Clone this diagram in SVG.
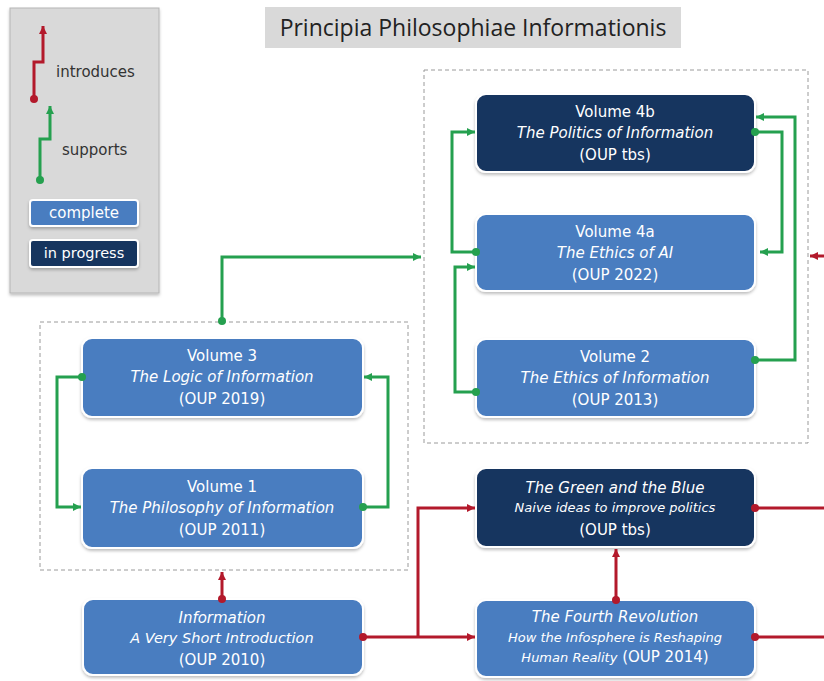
<svg xmlns="http://www.w3.org/2000/svg" width="824" height="681" viewBox="0 0 824 681">
<defs>
<style>
.lt{fill:#4a7dc0;stroke:#fff;stroke-width:2}
.dk{fill:#19345e;stroke:#fff;stroke-width:2}
.t{font-family:"DejaVu Sans","Liberation Sans",sans-serif;fill:#fff;text-anchor:middle}
.h{font-size:15px}
.i{font-size:15px;font-style:italic}
.s{font-size:13px;font-style:italic}
.grp{fill:none;stroke:#9a9a9a;stroke-width:1;stroke-dasharray:4 3}
.g{fill:none;stroke:#25a04f;stroke-width:3;marker-start:url(#gd);marker-end:url(#ga)}
.r{fill:none;stroke:#b3192b;stroke-width:3;marker-start:url(#rd);marker-end:url(#ra)}
.rs{fill:none;stroke:#b3192b;stroke-width:3;marker-start:url(#rd)}
.re{fill:none;stroke:#b3192b;stroke-width:3;marker-end:url(#ra)}
.lg{font-family:"DejaVu Sans","Liberation Sans",sans-serif;font-size:15px;fill:#333}
</style>
<filter id="sh" x="-10%" y="-10%" width="120%" height="130%">
<feDropShadow dx="0" dy="2" stdDeviation="1.5" flood-color="#000" flood-opacity="0.25"/>
</filter>
<marker id="ga" markerUnits="userSpaceOnUse" viewBox="0 0 10 10" refX="10" refY="5" markerWidth="9" markerHeight="8" orient="auto"><path d="M0,0 L10,5 L0,10 z" fill="#25a04f"/></marker>
<marker id="gd" markerUnits="userSpaceOnUse" viewBox="0 0 10 10" refX="5" refY="5" markerWidth="8" markerHeight="8" orient="auto"><circle cx="5" cy="5" r="5" fill="#25a04f"/></marker>
<marker id="ra" markerUnits="userSpaceOnUse" viewBox="0 0 10 10" refX="10" refY="5" markerWidth="9" markerHeight="8" orient="auto"><path d="M0,0 L10,5 L0,10 z" fill="#b3192b"/></marker>
<marker id="rd" markerUnits="userSpaceOnUse" viewBox="0 0 10 10" refX="5" refY="5" markerWidth="8" markerHeight="8" orient="auto"><circle cx="5" cy="5" r="5" fill="#b3192b"/></marker>
</defs>
<rect width="824" height="681" fill="#fff"/>

<g id="legend">
<rect x="10" y="8" width="149" height="285" fill="#d9d9d9" stroke="#b5b5b5" stroke-width="1" filter="url(#sh)"/>
<path d="M34,99 V62 H43 V26" class="r"/>
<text x="56" y="77" class="lg">introduces</text>
<path d="M40,180 V139 H50 V106" class="g"/>
<text x="62" y="155" class="lg">supports</text>
<rect x="30" y="200" width="108" height="26" rx="3" class="lt" filter="url(#sh)"/>
<text x="84" y="218" class="t" style="font-size:15px">complete</text>
<rect x="30" y="240" width="108" height="27" rx="3" class="dk" filter="url(#sh)"/>
<text x="84" y="258" class="t" style="font-size:14.5px">in progress</text>
</g>

<g id="title">
<rect x="265" y="7" width="416" height="41" fill="#d9d9d9"/>
<text x="473" y="36" font-family="'Open Sans','Liberation Sans',sans-serif" font-size="23" fill="#222" text-anchor="middle">Principia Philosophiae Informationis</text>
</g>

<g id="groups">
<rect x="424" y="70" width="384" height="373" class="grp"/>
<rect x="40" y="322" width="368" height="248" class="grp"/>
</g>

<g id="vol4b">
<rect x="476" y="94" width="279" height="78" rx="10" class="dk" filter="url(#sh)"/>
<text x="615" y="117" class="t h">Volume 4b</text>
<text x="615" y="138" class="t i">The Politics of Information</text>
<text x="615" y="160" class="t h">(OUP tbs)</text>
</g>
<g id="vol4a">
<rect x="476" y="214" width="279" height="77" rx="10" class="lt" filter="url(#sh)"/>
<text x="615" y="237" class="t h">Volume 4a</text>
<text x="615" y="258" class="t i">The Ethics of AI</text>
<text x="615" y="280" class="t h">(OUP 2022)</text>
</g>
<g id="vol2">
<rect x="476" y="339" width="279" height="78" rx="10" class="lt" filter="url(#sh)"/>
<text x="615" y="362" class="t h">Volume 2</text>
<text x="615" y="383" class="t i">The Ethics of Information</text>
<text x="615" y="405" class="t h">(OUP 2013)</text>
</g>
<g id="vol3">
<rect x="82" y="338" width="281" height="79" rx="10" class="lt" filter="url(#sh)"/>
<text x="222" y="361" class="t h">Volume 3</text>
<text x="222" y="382" class="t i">The Logic of Information</text>
<text x="222" y="404" class="t h">(OUP 2019)</text>
</g>
<g id="vol1">
<rect x="82" y="468" width="281" height="80" rx="10" class="lt" filter="url(#sh)"/>
<text x="222" y="492" class="t h">Volume 1</text>
<text x="222" y="513" class="t i">The Philosophy of Information</text>
<text x="222" y="535" class="t h">(OUP 2011)</text>
</g>
<g id="info">
<rect x="83" y="599" width="280" height="76" rx="10" class="lt" filter="url(#sh)"/>
<text x="222" y="623" class="t i">Information</text>
<text x="222" y="643" class="t s" style="font-size:14.5px">A Very Short Introduction</text>
<text x="222" y="665" class="t h">(OUP 2010)</text>
</g>
<g id="greenblue">
<rect x="476" y="468" width="279" height="79" rx="10" class="dk" filter="url(#sh)"/>
<text x="615" y="493" class="t i">The Green and the Blue</text>
<text x="615" y="512" class="t s">Naive ideas to improve politics</text>
<text x="615" y="535" class="t h">(OUP tbs)</text>
</g>
<g id="fourth">
<rect x="476" y="600" width="279" height="77" rx="10" class="lt" filter="url(#sh)"/>
<text x="615" y="622" class="t i">The Fourth Revolution</text>
<text x="615" y="642" class="t s">How the Infosphere is Reshaping</text>
<text x="615" y="662" class="t"><tspan class="s">Human Reality</tspan><tspan class="h"> (OUP 2014)</tspan></text>
</g>

<g id="connectors">
<path d="M222,321 V257 H421" class="g"/>
<path d="M82,377 H57 V507 H81" class="g"/>
<path d="M363,507 H388 V377 H364" class="g"/>
<path d="M476,252 H452 V132 H475" class="g"/>
<path d="M476,392 H455 V267 H475" class="g"/>
<path d="M755,360 H795 V117 H756" class="g"/>
<path d="M755,132 H782 V252 H760" class="g"/>
<path d="M824,256 H810" class="re"/>
<path d="M755,508 H824" class="rs"/>
<path d="M755,637 H824" class="rs"/>
<path d="M363,637 H475" class="r"/>
<path d="M418,637 V508 H475" class="re"/>
<path d="M222,599 V572" class="r"/>
<path d="M616,600 V549" class="r"/>
</g>
</svg>
